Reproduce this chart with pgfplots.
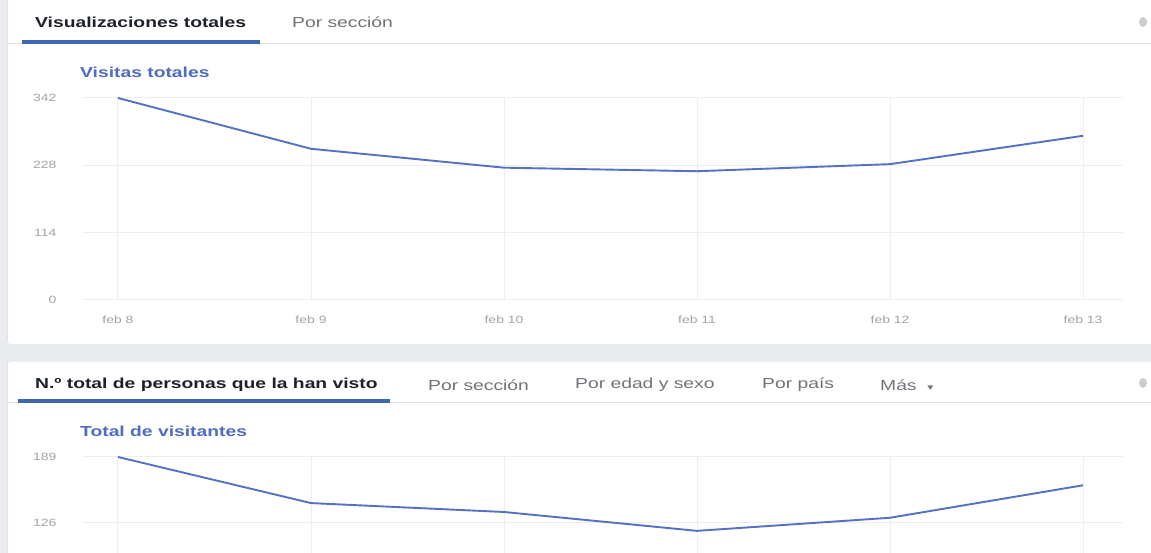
\documentclass[border=0pt]{standalone}
\usepackage{pgfplots}
\pgfplotsset{compat=1.18}
\usepackage{fontspec}
\setmainfont{Liberation Sans}[FakeStretch=1.33]
\newfontfamily\symfont{DejaVu Sans}[FakeStretch=1.33]
\definecolor{bandgray}{HTML}{E9EBEE}
\definecolor{sepgray}{HTML}{DFE1E5}
\definecolor{fbblue}{HTML}{4267B2}
\definecolor{titleblue}{HTML}{4F6BC4}
\definecolor{linecol}{HTML}{5670C4}
\definecolor{darktext}{HTML}{1D2129}
\definecolor{tabgray}{HTML}{6F7378}
\definecolor{tickgray}{HTML}{A0A3A8}
\definecolor{gridgray}{HTML}{ECEEF1}
\newcommand{\tabfont}{\fontsize{14.5}{17}\selectfont}
\newcommand{\tickfont}{\fontsize{10.5}{12}\selectfont}
\begin{document}
\begin{tikzpicture}[x=1pt,y=1pt]
\useasboundingbox (0,0) rectangle (1151,553);
\clip (0,0) rectangle (1151,553);
\fill[bandgray] (0,0) rectangle (1151,553);
% panels
\fill[white, rounded corners=4pt] (7,209) rectangle (1170,570);
\fill[white, rounded corners=4pt] (7,-20) rectangle (1170,191);
\draw[sepgray, line width=0.8pt] (7,-20) -- (7,191);
\draw[sepgray, line width=0.8pt] (7,212) -- (7,553);
% top tabs
\draw[sepgray, line width=1pt] (7,509) -- (1151,509);
\fill[fbblue] (22,509) rectangle (260,512.5);
\node[anchor=west, inner sep=0, text=darktext] at (35,531) {\tabfont\bfseries Visualizaciones totales};
\node[anchor=west, inner sep=0, text=tabgray] at (292,531) {\tabfont Por sección};
\fill[gray!40] (1143,531) ellipse (4 and 5);
\node[anchor=west, inner sep=0, text=titleblue] at (80,481) {\tabfont\bfseries Visitas totales};
% bottom tabs
\draw[sepgray, line width=1pt] (7,150) -- (1151,150);
\fill[fbblue] (18,150) rectangle (390,153.5);
\node[anchor=west, inner sep=0, text=darktext] at (35,168) {\tabfont\bfseries N.º total de personas que la han visto};
\node[anchor=west, inner sep=0, text=tabgray] at (428,168) {\tabfont Por sección};
\node[anchor=west, inner sep=0, text=tabgray] at (575,168) {\tabfont Por edad y sexo};
\node[anchor=west, inner sep=0, text=tabgray] at (762,168) {\tabfont Por país};
\node[anchor=west, inner sep=0, text=tabgray] at (880,168) {\tabfont Más\ \ {\symfont\fontsize{9}{10}\selectfont ▾}};
\fill[gray!40] (1143,170) ellipse (4 and 5);
\node[anchor=west, inner sep=0, text=titleblue] at (80,122) {\tabfont\bfseries Total de visitantes};
% top axis
\begin{axis}[at={(82pt,253pt)}, anchor=south west, scale only axis,
  width=1041pt, height=202pt,
  xmin=-0.1865, xmax=5.207, ymin=0, ymax=342,
  xtick={0,1,2,3,4,5}, xticklabels={feb 8,feb 9,feb 10,feb 11,feb 12,feb 13},
  ytick={0,114,228,342}, yticklabels={0,114,228,342},
  grid=major, major grid style={gridgray, line width=1pt},
  axis line style={draw=none}, major tick length=0pt, tick style={draw=none},
  xticklabel style={font=\tickfont, text=tickgray, yshift=-12pt},
  yticklabel style={font=\tickfont, text=tickgray, xshift=-22pt},
  clip=false]
\addplot[linecol, line width=1.9pt] coordinates {(0,342) (1,256) (2,224) (3,218) (4,230) (5,278)};
\end{axis}
% bottom axis (its lower part lies below the visible area, as in the screenshot)
\begin{axis}[at={(82pt,-102pt)}, anchor=south west, scale only axis,
  width=1041pt, height=198pt,
  xmin=-0.1865, xmax=5.207, ymin=0, ymax=189,
  xtick={0,1,2,3,4,5}, xticklabels={},
  ytick={126,189}, yticklabels={126,189},
  grid=major, major grid style={gridgray, line width=1pt},
  axis line style={draw=none}, major tick length=0pt, tick style={draw=none},
  yticklabel style={font=\tickfont, text=tickgray, xshift=-22pt},
  clip=false]
\addplot[linecol, line width=1.9pt] coordinates {(0,189) (1,145) (2,136.5) (3,118.5) (4,131) (5,162)};
\end{axis}
\end{tikzpicture}
\end{document}
